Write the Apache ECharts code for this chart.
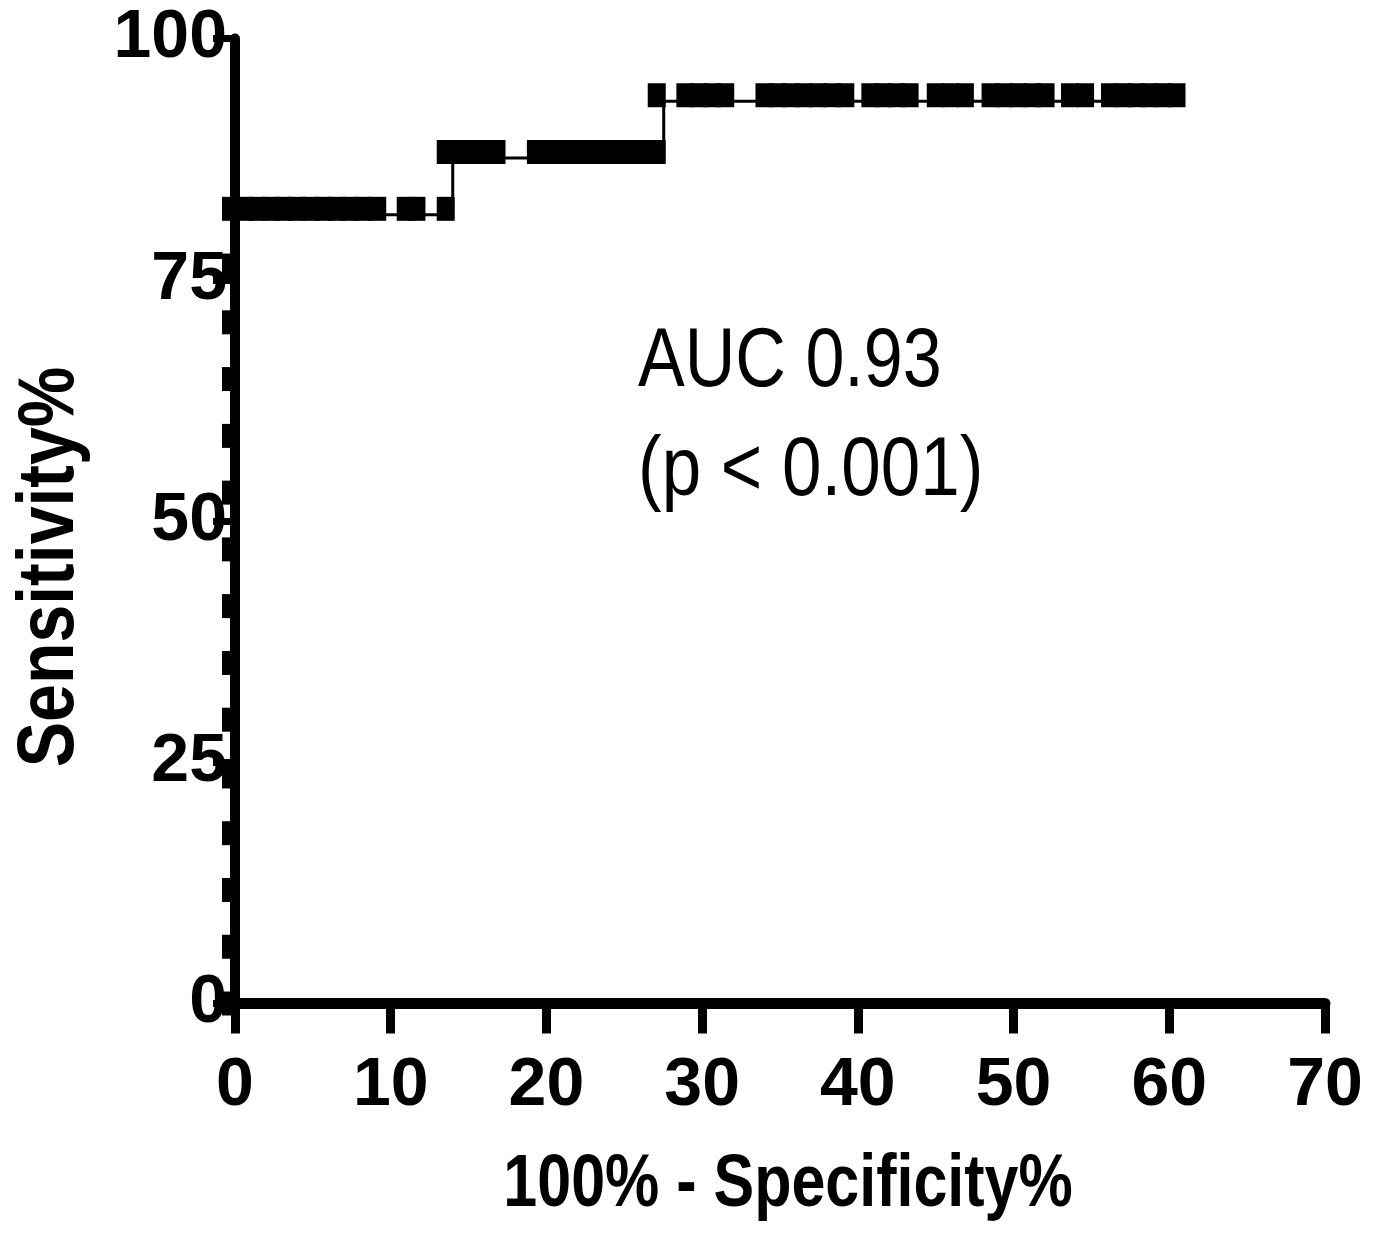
<!DOCTYPE html>
<html><head><meta charset="utf-8">
<script src="https://cdn.jsdelivr.net/npm/echarts@6/dist/echarts.min.js"></script>
<style>html,body{margin:0;padding:0;background:#fff}#c{width:1378px;height:1238px}</style>
</head><body><div id="c"></div>
<script>
const xTicks = [0, 10, 20, 30, 40, 50, 60, 70];
const yTicks = [0, 25, 50, 75, 100];
const sensAtZero = [0, 5.88, 11.76, 17.65, 23.53, 29.41, 35.29, 41.18, 47.06, 52.94, 58.82, 64.71, 70.59, 76.47, 82.35];
const fprAt82 = [0.85, 1.7, 2.55, 3.4, 4.25, 5.1, 5.95, 6.8, 7.65, 8.5, 9.39, 11.22, 11.91, 13.79];
const fprAt88 = [13.79, 14.6, 15.45, 16.3, 17.05, 19.58, 20.45, 21.3, 22.15, 23.0, 23.85, 24.7, 25.6, 26.5, 27.34];
const fprAt94 = [27.34, 29.18, 30.05, 30.9, 31.74, 34.26, 35.1, 35.95, 36.8, 37.7, 38.6, 39.45, 41.06, 41.9, 42.75, 43.58, 45.26, 46.2, 47.13, 48.78, 49.65, 50.55, 51.45, 52.31, 53.88, 54.85, 56.45, 57.3, 58.15, 59.0, 59.85, 60.72];
const sensLevels = [82.35, 88.24, 94.12];
const xTitle = '100% - Specificity%';
const yTitle = 'Sensitivity%';
const aucText = 'AUC 0.93';
const pText = '(p < 0.001)';

const points = []
  .concat(sensAtZero.map(s => [0, s]))
  .concat(fprAt82.map(x => [x, sensLevels[0]]))
  .concat(fprAt88.map(x => [x, sensLevels[1]]))
  .concat(fprAt94.map(x => [x, sensLevels[2]]));

const FF = '"Liberation Sans", Arial, sans-serif';
const chart = echarts.init(document.getElementById('c'), null, {renderer: 'canvas'});
const xMin = xTicks[0], xMax = xTicks[xTicks.length - 1], xInt = xTicks[1] - xTicks[0];
const yMin = yTicks[0], yMax = yTicks[yTicks.length - 1], yInt = yTicks[1] - yTicks[0];

chart.setOption({
  backgroundColor: '#ffffff',
  animation: false,
  grid: [
    {left: 235, right: 53, top: 38.5, bottom: 234.5},
    {left: 238, right: 50, top: 44.5, bottom: 228.5}
  ],
  xAxis: [{
    type: 'value', gridIndex: 0, min: xMin, max: xMax, interval: xInt,
    axisLine: {show: true, onZero: false, lineStyle: {color: '#000', width: 11}},
    axisTick: {show: true, length: 30, lineStyle: {color: '#000', width: 9}},
    axisLabel: {fontFamily: FF, fontWeight: 'bold', fontSize: 68, color: '#000', margin: 49},
    splitLine: {show: false}
  }, {
    type: 'value', gridIndex: 1, min: xMin, max: xMax, show: false
  }],
  yAxis: [{
    type: 'value', gridIndex: 0, min: yMin, max: yMax, interval: yInt,
    axisLine: {show: true, onZero: false, lineStyle: {color: '#000', width: 10}},
    axisTick: {show: true, length: 22, lineStyle: {color: '#000', width: 7}},
    axisLabel: {fontFamily: FF, fontWeight: 'bold', fontSize: 68, color: '#000', margin: 8},
    splitLine: {show: false}
  }, {
    type: 'value', gridIndex: 1, min: yMin, max: yMax, show: false
  }],
  graphic: [
    {type: 'text', x: 51, y: 567, rotation: Math.PI / 2, scaleX: 0.85,
      style: {text: yTitle, font: 'bold 80px ' + FF, fill: '#000', textAlign: 'center', textVerticalAlign: 'middle'}},
    {type: 'text', x: 788, y: 1186, scaleX: 0.824,
      style: {text: xTitle, font: 'bold 74px ' + FF, fill: '#000', textAlign: 'center', textVerticalAlign: 'middle'}},
    {type: 'text', x: 638, y: 363, scaleX: 0.834,
      style: {text: aucText, font: 'normal 84px ' + FF, fill: '#000', textAlign: 'left', textVerticalAlign: 'middle'}},
    {type: 'text', x: 638, y: 472, scaleX: 0.845,
      style: {text: pText, font: 'normal 84px ' + FF, fill: '#000', textAlign: 'left', textVerticalAlign: 'middle'}}
  ],
  series: [{
    type: 'line', xAxisIndex: 1, yAxisIndex: 1, data: points,
    showSymbol: false, symbol: 'none',
    lineStyle: {color: '#000', width: 3}, z: 2
  }, {
    type: 'scatter', xAxisIndex: 0, yAxisIndex: 0, data: points,
    symbol: 'rect', symbolSize: [18, 24], symbolOffset: [-4, 0],
    itemStyle: {color: '#000', opacity: 1}, z: 3
  }]
});
</script>
</body></html>
